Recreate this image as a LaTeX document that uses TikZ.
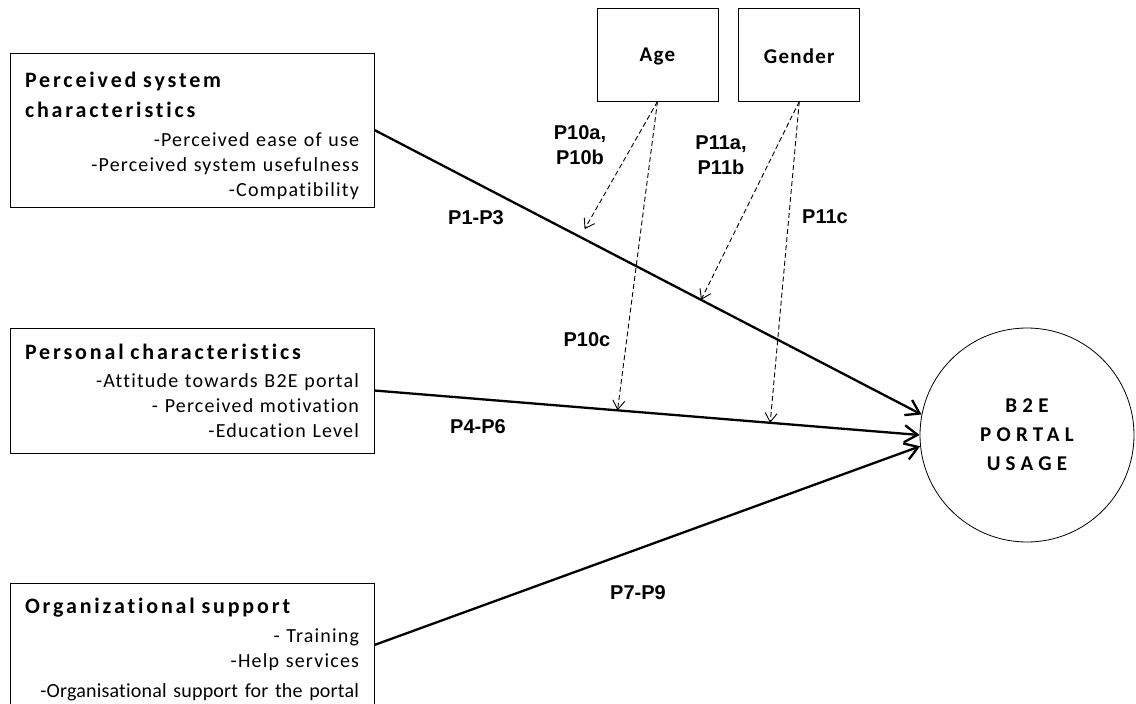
\documentclass[tikz,border=0pt]{standalone}
\usepackage{fontspec}
\setmainfont{Carlito}[Ligatures=NoCommon]
\newfontfamily\plabelfont{Liberation Sans}
\usetikzlibrary{arrows.meta,positioning}
\tikzset{factorbox/.style={rectangle, draw, line width=0.8pt, inner sep=0pt,
      minimum width=364pt, text width=334pt, align=right,
      font=\fontsize{20}{25}\selectfont\addfontfeature{LetterSpace=6}}}
\tikzset{moderator/.style={rectangle, draw, line width=0.8pt,
      minimum width=121pt, minimum height=93pt,
      font=\bfseries\fontsize{21}{25}\selectfont\addfontfeature{LetterSpace=6}}}
\tikzset{outcome/.style={circle, draw, line width=0.8pt, minimum size=214pt,
      inner sep=0pt, align=center,
      font=\bfseries\fontsize{21}{29}\selectfont\addfontfeature{LetterSpace=25}}}
\tikzset{plabel/.style={inner sep=0pt, align=center,
      font=\plabelfont\bfseries\fontsize{20}{25}\selectfont}}
\tikzset{effect/.style={line width=2.3pt, -{Straight Barb[length=13pt,width=17pt]}}}
\tikzset{moderates/.style={line width=0.9pt, dash pattern=on 5pt off 3pt,
      -{Straight Barb[length=9pt,width=12pt]}}}
\newcommand\factorhead[1]{\makebox[\hsize][l]{\bfseries\fontsize{22}{25}\selectfont\addfontfeature{LetterSpace=13}#1}}

\begin{document}
\begin{tikzpicture}[x=1pt,y=-1pt]
    \useasboundingbox (0,0) rectangle (1136,704);

    % antecedents
    \node[factorbox, minimum height=154pt] (perc) at (192,130)
      {\factorhead{\rule{0pt}{27pt}Perceived system}\\[5pt]\factorhead{characteristics}\\[4pt]
       -Perceived ease of use\\ -Perceived system usefulness\\ -Compatibility};
    \node[factorbox, minimum height=125pt] (pers) at (192,390.5)
      {\factorhead{Personal characteristics}\\[3pt]
       -Attitude towards B2E portal\\ - Perceived motivation\\ -Education Level};
    \node[factorbox, minimum height=124pt] (org) at (192,645)
      {\factorhead{\rule{0pt}{24pt}Organizational support}\\[4pt]
       - Training\\ -Help services\\[5pt]
       \mbox{\addfontfeature{LetterSpace=1}-Organisational support for the portal}};

    % moderators and outcome
    \node[moderator] (age) at (657.5,54.5) {\rule{0pt}{18pt}Age};
    \node[moderator, right=20pt of age] (gender) {\rule{0pt}{18pt}Gender};
    \node[outcome] (usage) at (1027,435) {B2E\\PORTAL\\USAGE};

    % direct effects
    \draw[effect] (perc.east) -- coordinate[pos=.376] (percage)
      coordinate[pos=.597] (percgender) (usage.169);
    \draw[effect] (pers.east) -- coordinate[pos=.446] (persage)
      coordinate[pos=.726] (persgender) (usage.180);
    \draw[effect] (org.east) -- (usage.186);

    % moderating effects
    \draw[moderates, shorten >=9pt] (age.south) -- (percage);
    \draw[moderates] (age.south) -- (persage);
    \draw[moderates] (gender.south) -- (percgender);
    \draw[moderates] (gender.south) -- (persgender);

    \node[plabel] (lp1) at (476,218) {P1-P3};
    \node[plabel] (lp4) at (478,427) {P4-P6};
    \node[plabel] (lp7) at (638,593) {P7-P9};
    \node[plabel] (lp10ab) at (580,145) {P10a,\\P10b};
    \node[plabel] (lp10c) at (587,340) {P10c};
    \node[plabel] (lp11ab) at (721,155) {P11a,\\P11b};
    \node[plabel] (lp11c) at (825,217) {P11c};
  \end{tikzpicture}
\end{document}
